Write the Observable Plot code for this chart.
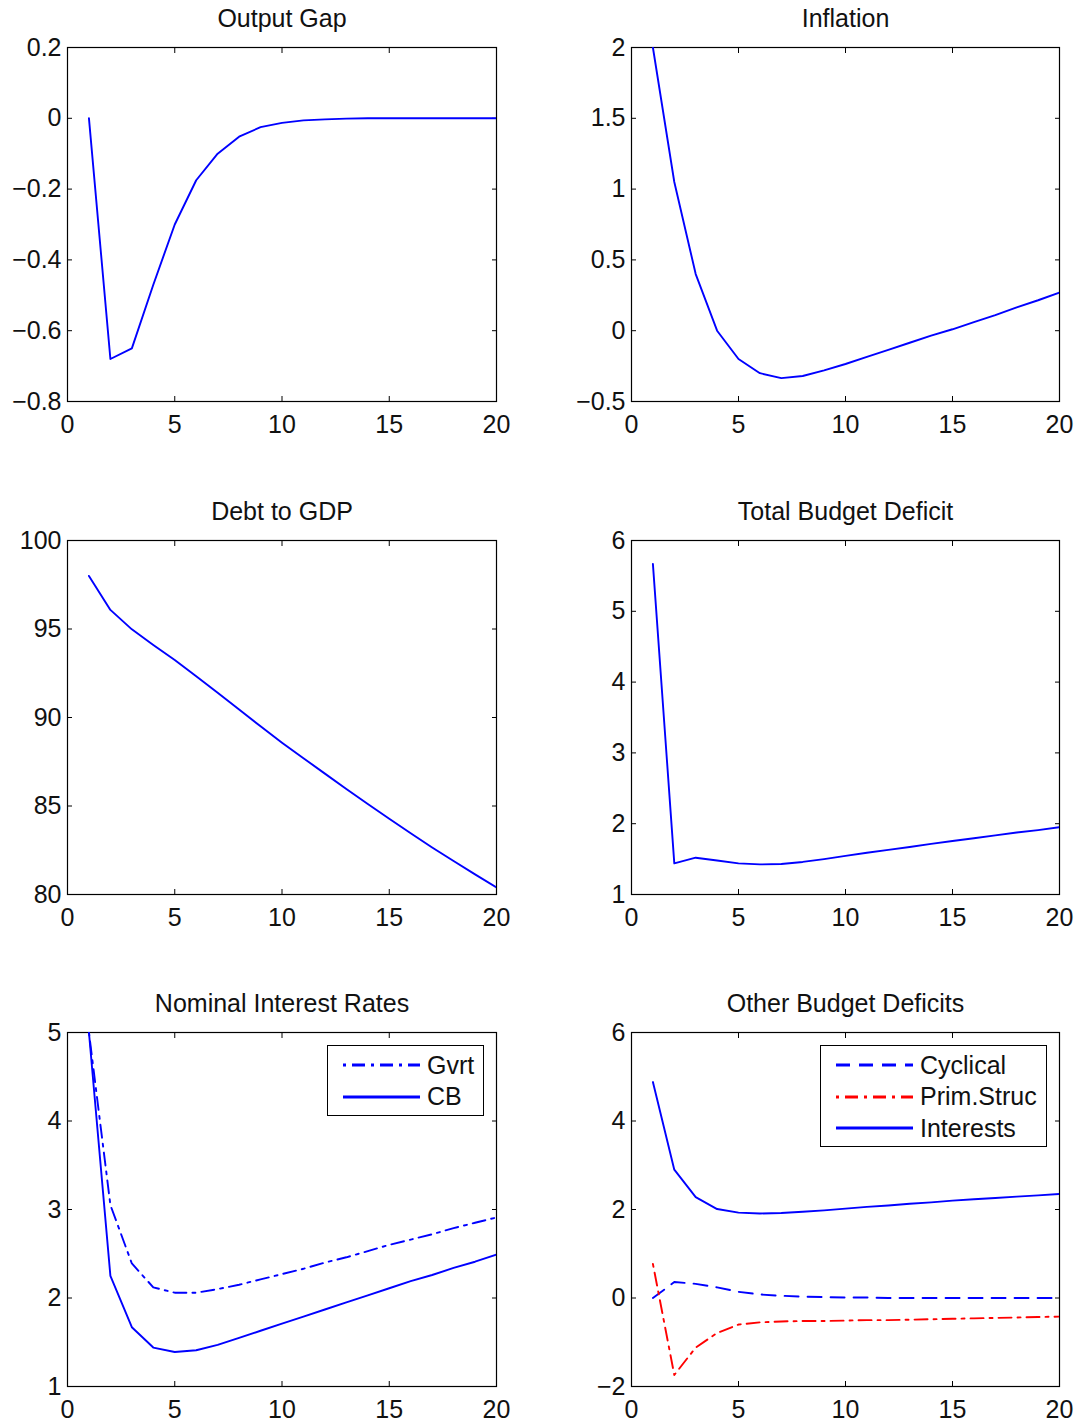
<!DOCTYPE html>
<html>
<head>
<meta charset="utf-8">
<script src="https://cdn.jsdelivr.net/npm/d3@7"></script>
<script src="https://cdn.jsdelivr.net/npm/@observablehq/plot@0.6"></script>
<style>
  html, body { margin: 0; padding: 0; background: #fff; }
  #root { position: relative; width: 1081px; height: 1425px; overflow: hidden; font-family: "Liberation Sans", Arial, sans-serif; color: #111; }
  .panel { position: absolute; }
  .legend { position: absolute; border: 1.3px solid #000; background: #fff; box-sizing: border-box; }
  .legend .row { position: absolute; left: 0; height: 32px; display: flex; align-items: center; font-size: 25px; line-height: 1; }
  .legend svg { display: block; margin-left: 15px; margin-right: 7px; }
</style>
</head>
<body>
<div id="root"></div>
<script>
// ---- data ----
const period = [1, 2, 3, 4, 5, 6, 7, 8, 9, 10, 11, 12, 13, 14, 15, 16, 17, 18, 19, 20];
const xTicks = [0, 5, 10, 15, 20];

const outputGap = [0, -0.68, -0.65, -0.47, -0.30, -0.175, -0.10, -0.052, -0.025, -0.013, -0.006, -0.003, -0.001, 0, 0, 0, 0, 0, 0, 0];
const inflation = [2.0, 1.05, 0.40, 0.0, -0.20, -0.30, -0.335, -0.32, -0.28, -0.235, -0.185, -0.135, -0.085, -0.035, 0.01, 0.06, 0.11, 0.165, 0.215, 0.27];
const debtToGdp = [98.0, 96.08, 94.98, 94.1, 93.25, 92.33, 91.4, 90.45, 89.5, 88.58, 87.7, 86.83, 85.96, 85.11, 84.28, 83.46, 82.66, 81.89, 81.14, 80.4];
const totalDeficit = [5.67, 1.44, 1.52, 1.48, 1.44, 1.425, 1.43, 1.46, 1.50, 1.545, 1.59, 1.63, 1.67, 1.715, 1.755, 1.795, 1.835, 1.875, 1.91, 1.95];
const gvrtRate = [5.0, 3.05, 2.39, 2.12, 2.06, 2.06, 2.10, 2.15, 2.21, 2.27, 2.33, 2.40, 2.46, 2.53, 2.60, 2.66, 2.72, 2.79, 2.85, 2.91];
const cbRate = [5.0, 2.25, 1.67, 1.44, 1.39, 1.41, 1.47, 1.55, 1.63, 1.71, 1.79, 1.87, 1.95, 2.03, 2.11, 2.19, 2.26, 2.34, 2.41, 2.49];
const cyclical = [0.0, 0.36, 0.32, 0.24, 0.14, 0.08, 0.05, 0.03, 0.02, 0.01, 0.01, 0, 0, 0, 0, 0, 0, 0, 0, 0];
const primStruc = [0.77, -1.74, -1.12, -0.79, -0.60, -0.55, -0.53, -0.52, -0.52, -0.51, -0.50, -0.50, -0.49, -0.48, -0.47, -0.46, -0.45, -0.44, -0.43, -0.42];
const interests = [4.88, 2.90, 2.28, 2.01, 1.93, 1.91, 1.92, 1.95, 1.98, 2.02, 2.06, 2.09, 2.13, 2.16, 2.20, 2.23, 2.26, 2.29, 2.32, 2.35];

const titles = ["Output Gap", "Inflation", "Debt to GDP", "Total Budget Deficit", "Nominal Interest Rates", "Other Budget Deficits"];
const yTicksOutput = [-0.8, -0.6, -0.4, -0.2, 0, 0.2];
const yTicksInflation = [-0.5, 0, 0.5, 1, 1.5, 2];
const yTicksDebt = [80, 85, 90, 95, 100];
const yTicksTotal = [1, 2, 3, 4, 5, 6];
const yTicksRates = [1, 2, 3, 4, 5];
const yTicksOther = [-2, 0, 2, 4, 6];
const ratesLegend = ["Gvrt", "CB"];
const otherLegend = ["Cyclical", "Prim.Struc", "Interests"];

// ---- styles ----
const BLUE = "#0000ff", RED = "#ff0000";
const DASHDOT = "3,6,13,6", DASHED = "14,9";
const FONT = "'Liberation Sans', Arial, Helvetica, sans-serif";
const fmt = d => (d < 0 ? "\u2212" + Math.abs(d) : String(d));

const root = document.getElementById("root");

function table(values) {
  return period.map((p, i) => ({ period: p, value: values[i] }));
}

function panel({ title, ticks, series, col, row }) {
  const left = col === 0 ? 0 : 540;
  const width = col === 0 ? 540 : 541;
  const marginLeft = col === 0 ? 67 : 91;
  const marginRight = col === 0 ? 44 : 22;
  const top = [0, 493, 985][row];
  const domain = [ticks[0], ticks[ticks.length - 1]];
  const marks = [
    Plot.frame({ stroke: "#000", strokeWidth: 1.2 }),
    Plot.axisX({ ticks: xTicks, anchor: "bottom", tickSize: -5, tickPadding: 19, tickFormat: fmt, label: null, stroke: "#000" }),
    Plot.axisX({ ticks: xTicks, anchor: "top", tickSize: -5, tickFormat: () => "", label: null, stroke: "#000" }),
    Plot.axisY({ ticks, anchor: "left", tickSize: -5, tickPadding: 11, tickFormat: fmt, label: null, stroke: "#000" }),
    Plot.axisY({ ticks, anchor: "right", tickSize: -5, tickFormat: () => "", label: null, stroke: "#000" })
  ];
  for (const s of series) {
    marks.push(Plot.line(table(s.values), {
      x: "period", y: "value", stroke: s.stroke, strokeWidth: 1.9,
      strokeDasharray: s.dash || null, clip: true
    }));
  }
  marks.push(Plot.text([title], { frameAnchor: "top", dy: -38, fontSize: 25, fill: "#111", text: d => d }));
  const chart = Plot.plot({
    width, height: 440,
    marginLeft, marginRight, marginTop: 47, marginBottom: 39,
    style: { fontFamily: FONT, fontSize: "25px", color: "#111", background: "transparent", overflow: "visible" },
    x: { domain: [0, 20] },
    y: { domain },
    marks
  });
  chart.classList.add("panel");
  chart.style.left = left + "px";
  chart.style.top = top + "px";
  root.appendChild(chart);
}

function legend({ left, top, width, height, items }) {
  const box = document.createElement("div");
  box.className = "legend";
  Object.assign(box.style, { left: left + "px", top: top + "px", width: width + "px", height: height + "px" });
  items.forEach((it, i) => {
    const row = document.createElement("div");
    row.className = "row";
    row.style.top = (3 + i * 31.5) + "px";
    const svg = d3.create("svg").attr("width", 77).attr("height", 6);
    svg.append("line").attr("x1", 0).attr("x2", 77).attr("y1", 3).attr("y2", 3)
      .attr("stroke", it.stroke).attr("stroke-width", 2.8)
      .attr("stroke-dasharray", it.dash || null);
    row.appendChild(svg.node());
    const label = document.createElement("span");
    label.textContent = it.label;
    row.appendChild(label);
    box.appendChild(row);
  });
  root.appendChild(box);
}

panel({ title: titles[0], ticks: yTicksOutput, col: 0, row: 0, series: [{ values: outputGap, stroke: BLUE }] });
panel({ title: titles[1], ticks: yTicksInflation, col: 1, row: 0, series: [{ values: inflation, stroke: BLUE }] });
panel({ title: titles[2], ticks: yTicksDebt, col: 0, row: 1, series: [{ values: debtToGdp, stroke: BLUE }] });
panel({ title: titles[3], ticks: yTicksTotal, col: 1, row: 1, series: [{ values: totalDeficit, stroke: BLUE }] });
panel({ title: titles[4], ticks: yTicksRates, col: 0, row: 2, series: [
  { values: gvrtRate, stroke: BLUE, dash: DASHDOT },
  { values: cbRate, stroke: BLUE }
] });
panel({ title: titles[5], ticks: yTicksOther, col: 1, row: 2, series: [
  { values: cyclical, stroke: BLUE, dash: DASHED },
  { values: primStruc, stroke: RED, dash: DASHDOT },
  { values: interests, stroke: BLUE }
] });

legend({ left: 327, top: 1045, width: 157, height: 71, items: [
  { label: ratesLegend[0], stroke: BLUE, dash: DASHDOT },
  { label: ratesLegend[1], stroke: BLUE }
] });
legend({ left: 820, top: 1045, width: 227, height: 102, items: [
  { label: otherLegend[0], stroke: BLUE, dash: DASHED },
  { label: otherLegend[1], stroke: RED, dash: DASHDOT },
  { label: otherLegend[2], stroke: BLUE }
] });
</script>
</body>
</html>
